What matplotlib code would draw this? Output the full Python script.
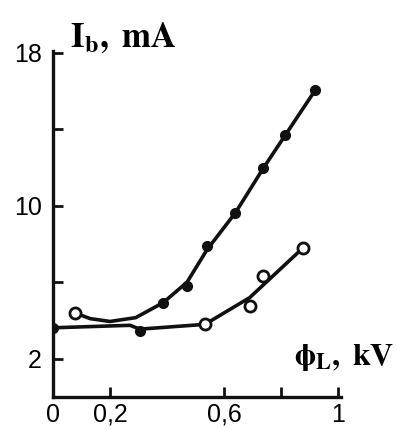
import matplotlib.pyplot as plt
import numpy as np

plt.rcParams['mathtext.fontset'] = 'stix'

# steep curve (line points, then markers)
up_line_x = [0.077, 0.13, 0.2, 0.29, 0.386, 0.47, 0.54, 0.64, 0.737, 0.814, 0.919]
up_line_y = [4.4, 4.1, 3.95, 4.15, 4.93, 6.0, 7.7, 9.64, 11.95, 13.68, 16.03]
up_mark_x = [0.077, 0.386, 0.47, 0.54, 0.64, 0.737, 0.814, 0.919]
up_mark_y = [4.4, 4.93, 5.82, 7.92, 9.64, 11.95, 13.68, 16.03]
up_filled = [False, True, True, True, True, True, True, True]

# flat-then-rising curve
lo_line_x = [0.0, 0.27, 0.305, 0.533, 0.69, 0.877]
lo_line_y = [3.62, 3.75, 3.55, 3.8, 5.2, 7.8]
lo_mark_x = [0.0, 0.305, 0.533, 0.69, 0.737, 0.877]
lo_mark_y = [3.62, 3.47, 3.83, 4.77, 6.35, 7.81]
lo_filled = [True, True, False, False, False, False]

yticks = [2, 6, 10, 14, 18]
ylabels = ['2', '', '10', '', '18']
xticks = [0, 0.2, 0.6, 0.8, 1]
xlabels = ['0', '0,2', '0,6', '', '1']

fig = plt.figure(figsize=(3.97, 4.30), dpi=100)
ax = fig.add_axes([0.1335, 0.0767, 0.7254, 0.805])

def draw(lx, ly, mx, my, filled):
    ax.plot(lx, ly, color='#111111', lw=2.6, solid_capstyle='round', solid_joinstyle='round')
    mx = np.array(mx); my = np.array(my); f = np.array(filled)
    ax.plot(mx[f], my[f], 'o', ms=7, color='#111111', mec='#111111')
    ax.plot(mx[~f], my[~f], 'o', ms=8, mfc='white', mec='#111111', mew=2)

draw(up_line_x, up_line_y, up_mark_x, up_mark_y, up_filled)
draw(lo_line_x, lo_line_y, lo_mark_x, lo_mark_y, lo_filled)

ax.set_xlim(0, 1.01)
ax.set_ylim(0, 18.1)
for s in ['top', 'right']:
    ax.spines[s].set_visible(False)
for s in ['left', 'bottom']:
    ax.spines[s].set_linewidth(2.4)
    ax.spines[s].set_color('#111111')

ax.set_yticks(yticks)
ax.set_yticklabels(ylabels)
ax.set_xticks(xticks)
ax.set_xticklabels(xlabels)
ax.tick_params(direction='in', length=7, width=2, color='#111111', pad=8)
ax.tick_params(axis='x', pad=4)
for lab in ax.get_xticklabels() + ax.get_yticklabels():
    lab.set_family(['Liberation Sans Narrow', 'Liberation Sans'])
    lab.set_fontsize(18)

fig.text(70/397, 1 - 47/430, r'$\mathbf{I_{b},\ mA}$', fontsize=25, ha='left', va='baseline')
fig.text(394/397, 1 - 365/430, r'$\mathbf{\phi_{L},\ kV}$', fontsize=23, ha='right', va='baseline')

fig.savefig('out.png', dpi=100)
